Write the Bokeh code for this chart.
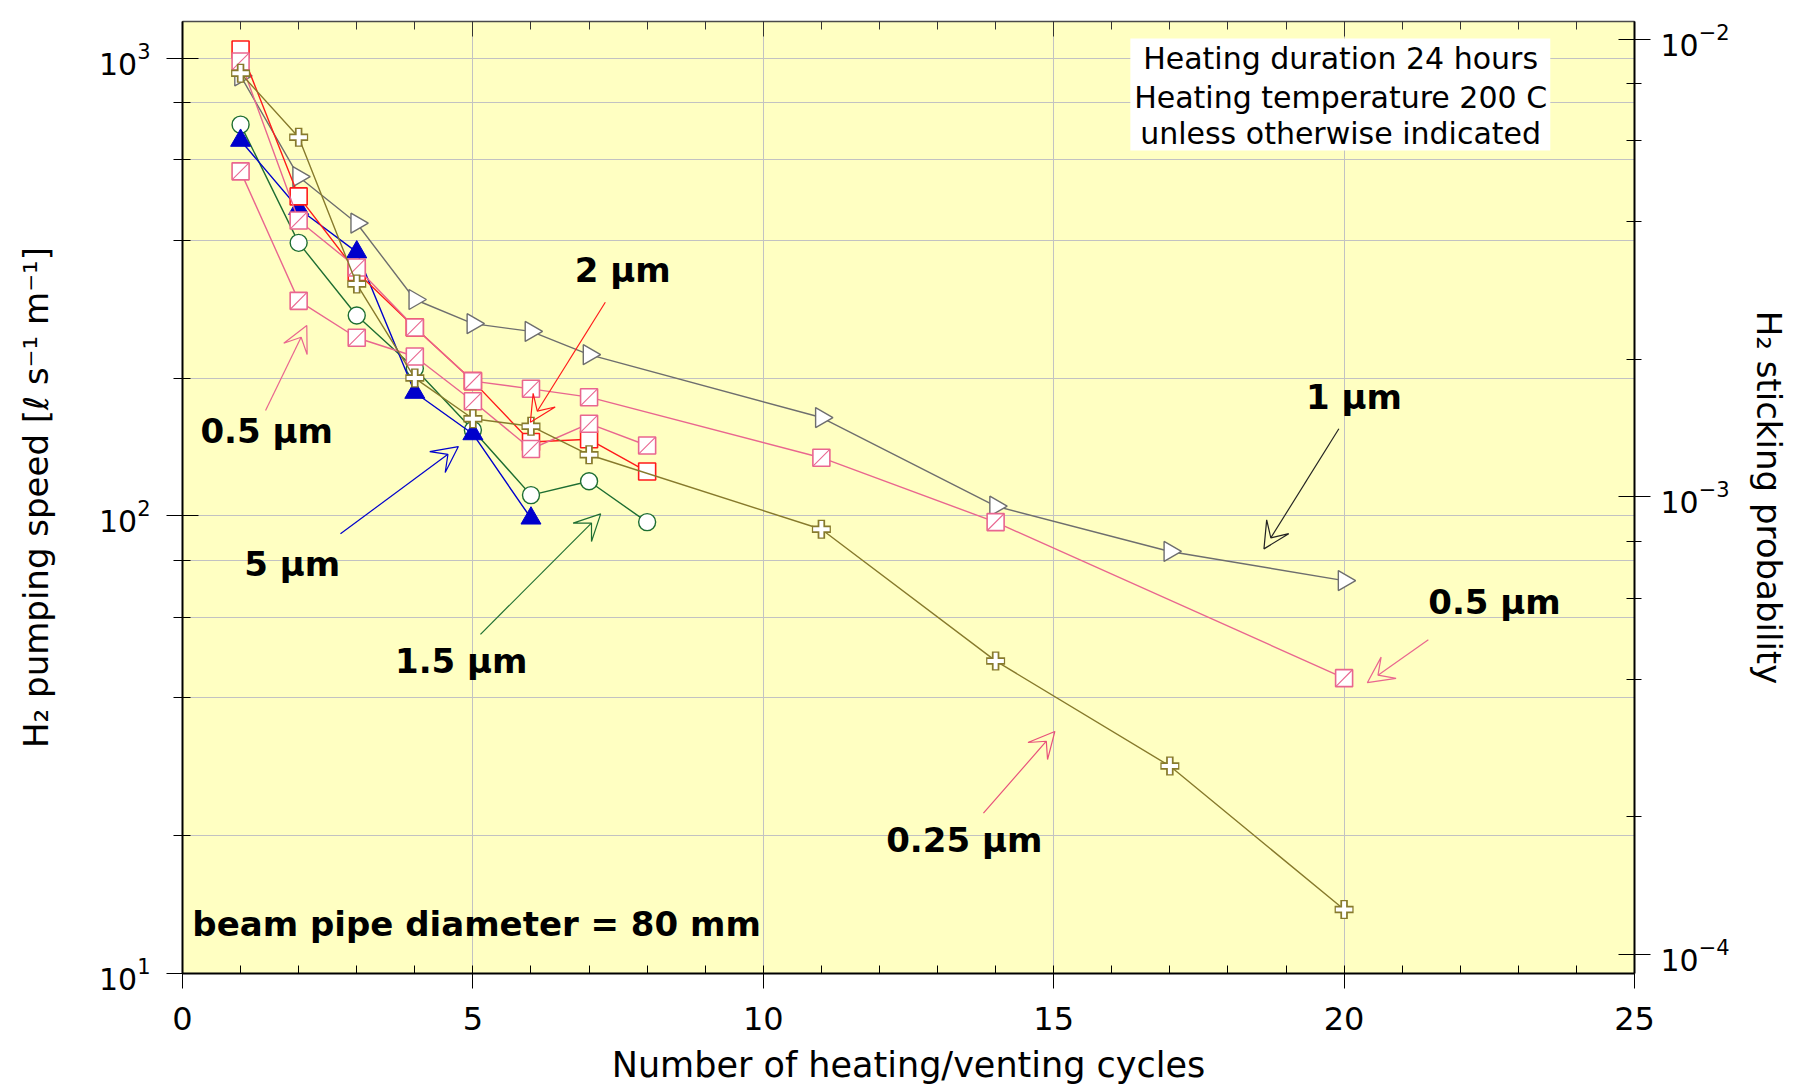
import numpy as np
from bokeh.plotting import figure
from bokeh.models import (Range1d, LogScale, LogAxis, LinearAxis, LogTicker,
                          SingleIntervalTicker, Arrow, VeeHead, Label,
                          BoxAnnotation, CustomJSTickFormatter)
from bokeh.embed import file_html
from bokeh.resources import INLINE

# H2 pumping speed [l s^-1 m^-1] after each heating/venting cycle, per film thickness
cycles_1um = [1, 2, 3, 4, 5, 6, 7, 11, 14, 17, 20]
speed_1um = [915, 551, 436, 297, 263, 253, 225, 164, 105, 83.6, 72.2]

cycles_025um = [1, 2, 3, 4, 5, 6, 7, 11, 14, 17, 20]
speed_025um = [927, 672, 321, 200, 163, 157, 136, 93.5, 48.2, 28.4, 13.8]

cycles_2um = [1, 2, 3, 4, 5, 6, 7, 8]
speed_2um = [1045, 499, 341, 258, 197, 145, 147, 125]

cycles_05um_a = [1, 2, 3, 4, 5, 6, 7, 11, 14, 20]
speed_05um_a = [984, 442, 349, 258, 197, 189.5, 181.7, 134, 96.9, 44.2]

cycles_05um_b = [1, 2, 3, 4, 5, 6, 7, 8]
speed_05um_b = [566, 295, 245, 223, 178, 140, 159, 142.5]

cycles_15um = [1, 2, 3, 4, 5, 6, 7, 8]
speed_15um = [716, 395, 274, 210, 154, 111, 119, 96.9]

cycles_5um = [1, 2, 3, 4, 5, 6]
speed_5um = [661, 469, 377, 186, 151, 98.8]

# conversion from pumping speed per metre to sticking probability (80 mm pipe, H2)
SPEED_PER_STICKING = 1.1e5

X_MIN, X_MAX = 0, 25
Y_MIN, Y_MAX = 10, 1203

FONT = "DejaVu Sans"
GRAY = "#6E6E6E"
OLIVE = "#877A2C"
RED = "#FF1A1A"
PINK = "#E9668F"
GREEN = "#1E6E32"
BLUE = "#0000CC"

p = figure(width=1813, height=1088,
           x_range=Range1d(X_MIN, X_MAX), y_range=Range1d(Y_MIN, Y_MAX),
           y_axis_type="log", output_backend="svg", toolbar_location=None,
           min_border_left=182, min_border_right=179,
           min_border_top=21, min_border_bottom=115,
           extra_y_ranges={"prob": Range1d(Y_MIN / SPEED_PER_STICKING,
                                           Y_MAX / SPEED_PER_STICKING)},
           extra_y_scales={"prob": LogScale()})

p.background_fill_color = "#FFFFC2"
p.border_fill_color = "white"
p.outline_line_color = None

# bottom axis
xt = SingleIntervalTicker(interval=5, num_minor_ticks=5)
xa = p.xaxis[0]
xa.ticker = xt
xa.axis_label = "Number of heating/venting cycles"
xa.axis_label_text_font = FONT
xa.axis_label_text_font_size = "35px"
xa.axis_label_text_font_style = "normal"
xa.axis_label_text_color = "black"
xa.axis_label_standoff = 12
xa.major_label_text_font = FONT
xa.major_label_text_font_size = "32px"
xa.major_label_text_color = "black"
xa.major_label_standoff = 18
xa.major_tick_in = 0
xa.major_tick_out = 15
xa.minor_tick_in = 8
xa.minor_tick_out = 0
xa.axis_line_width = 2
xa.axis_line_color = "black"
xa.major_tick_line_color = "black"
xa.minor_tick_line_color = "black"

# left axis
ya = p.yaxis[0]
ya.ticker = LogTicker(mantissas=[1])
ya.axis_label = "H₂ pumping speed [ℓ s⁻¹ m⁻¹]"
ya.axis_label_text_font = FONT
ya.axis_label_text_font_size = "34px"
ya.axis_label_text_font_style = "normal"
ya.axis_label_text_color = "black"
ya.axis_label_standoff = 40
ya.major_label_text_font = FONT
ya.major_label_text_font_size = "30px"
ya.major_label_text_color = "black"
ya.major_label_standoff = 16
ya.major_tick_in = 16
ya.major_tick_out = 16
ya.minor_tick_in = 8
ya.minor_tick_out = 9
ya.axis_line_width = 2
ya.axis_line_color = "black"
ya.major_tick_line_color = "black"
ya.minor_tick_line_color = "black"

# grid
p.xgrid.ticker = xt
p.xgrid.grid_line_color = "#C2C2C2"
p.xgrid.grid_line_width = 1
p.ygrid.grid_line_color = "#C2C2C2"
p.ygrid.minor_grid_line_color = "#C2C2C2"
p.ygrid.grid_line_width = 1

# top axis: ticks only
top = LinearAxis(ticker=SingleIntervalTicker(interval=5, num_minor_ticks=5),
                 formatter=CustomJSTickFormatter(code="return ''"),
                 major_label_text_font_size="1px",
                 major_tick_in=15, major_tick_out=0,
                 minor_tick_in=8, minor_tick_out=0,
                 axis_line_color="#4A4A4A", axis_line_width=1.5,
                 major_tick_line_color="#333333", minor_tick_line_color="#333333")
p.add_layout(top, "above")

# right axis: sticking probability
right = LogAxis(y_range_name="prob", ticker=LogTicker(mantissas=[1]),
                axis_label="H₂ sticking probability",
                axis_label_text_font=FONT, axis_label_text_font_size="34px",
                axis_label_text_font_style="normal", axis_label_text_color="black",
                axis_label_standoff=16,
                major_label_text_font=FONT, major_label_text_font_size="30px",
                major_label_text_color="black",
                major_label_standoff=10,
                major_tick_in=16, major_tick_out=16,
                minor_tick_in=8, minor_tick_out=7,
                axis_line_width=2, axis_line_color="black",
                major_tick_line_color="black", minor_tick_line_color="black")
p.add_layout(right, "right")


def line(xs, ys, color):
    p.line(xs, ys, line_color=color, line_width=1.4)


def hatched_squares(xs, ys):
    p.scatter(xs, ys, marker="square", size=17, fill_color="white",
              line_color=PINK, line_width=1.6)
    p.scatter(xs, ys, marker="dash", size=23, angle=np.pi / 4,
              line_color=PINK, line_width=1.1)


# 1 um
line(cycles_1um, speed_1um, GRAY)
p.scatter(cycles_1um, speed_1um, marker="triangle", angle=-np.pi / 2, size=20,
          fill_color="white", line_color=GRAY, line_width=1.4)

# 1.5 um
line(cycles_15um, speed_15um, GREEN)
p.scatter(cycles_15um, speed_15um, marker="circle", size=17,
          fill_color="white", line_color=GREEN, line_width=1.4)

# 5 um
line(cycles_5um, speed_5um, BLUE)
p.scatter(cycles_5um, speed_5um, marker="triangle", size=20,
          fill_color=BLUE, line_color=BLUE, line_width=1)

# 2 um
line(cycles_2um, speed_2um, RED)
p.scatter(cycles_2um, speed_2um, marker="square", size=17,
          fill_color="white", line_color=RED, line_width=1.6)

# 0.5 um (two runs)
line(cycles_05um_a, speed_05um_a, PINK)
hatched_squares(cycles_05um_a, speed_05um_a)
line(cycles_05um_b, speed_05um_b, PINK)
hatched_squares(cycles_05um_b, speed_05um_b)

# 0.25 um
line(cycles_025um, speed_025um, OLIVE)
p.scatter(cycles_025um, speed_025um, marker="cross", size=19,
          line_color=OLIVE, line_width=7.5)
p.scatter(cycles_025um, speed_025um, marker="cross", size=16.5,
          line_color="white", line_width=4)

# info box
p.add_layout(BoxAnnotation(left=16.32, right=23.55, bottom=628.6, top=1104,
                           fill_color="white", fill_alpha=1, line_color=None))
for txt, yv in [("Heating duration 24 hours", 997),
                ("Heating temperature 200 C", 822),
                ("unless otherwise indicated", 684.7)]:
    p.add_layout(Label(x=19.94, y=yv, text=txt, text_font=FONT,
                       text_font_size="30px", text_align="center",
                       text_baseline="middle", text_color="black"))

# thickness labels with arrows
notes = [
    ("0.5 μm", 1.45, 152.9, PINK, (1.43, 169.9, 2.14, 260.6)),
    ("5 μm", 1.89, 78.3, BLUE, (2.72, 91.4, 4.75, 141.7)),
    ("1.5 μm", 4.80, 48.3, GREEN, (5.13, 55.1, 7.20, 101.0)),
    ("2 μm", 7.58, 345.4, RED, (7.28, 293.0, 5.99, 160.2)),
    ("1 μm", 20.17, 181.8, "#222222", (19.91, 155.0, 18.62, 84.7)),
    ("0.5 μm", 22.59, 64.7, PINK, (21.45, 53.6, 20.40, 43.2)),
    ("0.25 μm", 13.46, 19.6, "#E8507A", (13.79, 22.4, 15.02, 33.8)),
]
for txt, lx, ly, col, (x0, y0, x1, y1) in notes:
    p.add_layout(Arrow(x_start=x0, y_start=y0, x_end=x1, y_end=y1,
                       line_color=col, line_width=1.2,
                       end=VeeHead(size=26, fill_color=None,
                                   line_color=col, line_width=1.2)))
    p.add_layout(Label(x=lx, y=ly, text=txt, text_font=FONT,
                       text_font_size="34px", text_font_style="bold",
                       text_align="center", text_baseline="middle",
                       text_color="black"))

p.add_layout(Label(x=0.17, y=12.8, text="beam pipe diameter = 80 mm",
                   text_font=FONT, text_font_size="34px",
                   text_font_style="bold", text_align="left",
                   text_baseline="middle", text_color="black"))

open("out.html", "w").write(file_html(p, INLINE))
